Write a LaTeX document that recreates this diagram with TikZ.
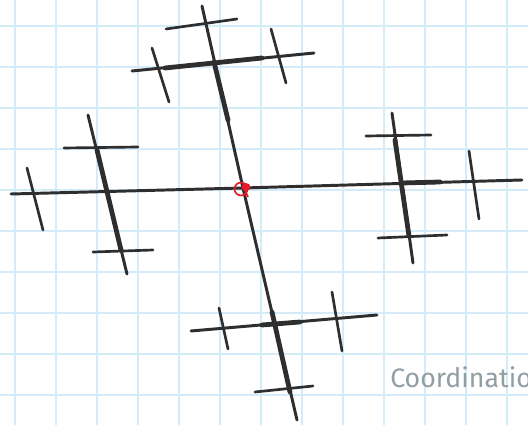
\documentclass[tikz,border=0pt]{standalone}
\usepackage{fontspec}
\newfontfamily\notefont{Fira Sans}
\usetikzlibrary{calc}
\definecolor{gridblue}{RGB}{212,235,250}
\definecolor{ink}{RGB}{46,46,46}
\definecolor{pencil}{RGB}{145,158,163}
\definecolor{marker}{RGB}{232,28,40}
\tikzset{
  gridline/.style={draw=gridblue, line width=1.1pt},
  stroke/.style={draw=ink, line width=2.1pt, line cap=round, line join=round},
  heavy/.style={draw=ink, line width=3.4pt, line cap=round},
  tickline/.style={draw=ink, line width=1.9pt, line cap=round},
  scribble/.style={draw=marker, line width=1.2pt},
  caption/.style={
    font=\notefont\fontsize{19}{19}\selectfont, text=pencil,
    anchor=base west, inner sep=0pt
  }
}

\begin{document}
\begin{tikzpicture}[x=0.025cm, y=-0.025cm]

% Paper and grid
\fill[white] (0,0) rectangle (528,425);
\useasboundingbox (0,0) rectangle (528,425);
\clip (0,0) rectangle (528,425);
\foreach \gx in {15,56,...,507} \draw[gridline] (\gx,0) -- (\gx,425);
\foreach \gy in {26,67,...,395} \draw[gridline] (0,\gy) -- (528,\gy);

% Centre
\coordinate (c) at (243,188);

% Up arm
\coordinate (uEnd) at (202,6);
\coordinate (uL) at (132,71);
\coordinate (uR) at (314,53);
\coordinate (uLa) at (152,48);  \coordinate (uLb) at (169,102);
\coordinate (uRa) at (271,29);  \coordinate (uRb) at (286,83);
\coordinate (uTa) at (166,29);  \coordinate (uTb) at (237,19);

% Left arm
\coordinate (lEnd) at (11,194);
\coordinate (lT) at (88,115);
\coordinate (lB) at (127,274);
\coordinate (lTa) at (64,148);  \coordinate (lTb) at (138,147);
\coordinate (lBa) at (93,252);  \coordinate (lBb) at (153,250);
\coordinate (lEa) at (27,168);  \coordinate (lEb) at (43,230);

% Right arm
\coordinate (rEnd) at (522,180);
\coordinate (rT) at (392,113);
\coordinate (rB) at (413,263);
\coordinate (rTa) at (366,136); \coordinate (rTb) at (431,135);
\coordinate (rBa) at (378,238); \coordinate (rBb) at (447,235);
\coordinate (rEa) at (469,151); \coordinate (rEb) at (479,219);

% Down arm
\coordinate (dEnd) at (297,420);
\coordinate (dL) at (191,331);
\coordinate (dR) at (377,315);
\coordinate (dLa) at (219,308); \coordinate (dLb) at (228,349);
\coordinate (dRa) at (332,292); \coordinate (dRb) at (342,351);
\coordinate (dEa) at (255,392); \coordinate (dEb) at (313,386);

% Stems
\draw[stroke] (c) -- (uEnd);
\draw[stroke] (c) -- (lEnd);
\draw[stroke] (c) -- (rEnd);
\draw[stroke] (c) -- (dEnd);

% Crossbars
\draw[stroke] (uL) -- (uR);
\draw[stroke] (lT) -- (lB);
\draw[stroke] (rT) -- (rB);
\draw[stroke] (dL) -- (dR);

% Heavier marker strokes
\draw[heavy] (214,62) -- (228,120);
\draw[heavy] (165,68) -- (262,58);
\draw[heavy] (97,150) -- (121,250);
\draw[heavy] (395,140) -- (409,236);
\draw[heavy] (402,183) -- (440,182);
\draw[heavy] (272,312) -- (290,392);
\draw[heavy] (262,325) -- (300,322);

% Ticks
\draw[tickline] (uLa) -- (uLb);
\draw[tickline] (uRa) -- (uRb);
\draw[tickline] (uTa) -- (uTb);
\draw[tickline] (lTa) -- (lTb);
\draw[tickline] (lBa) -- (lBb);
\draw[tickline] (lEa) -- (lEb);
\draw[tickline] (rTa) -- (rTb);
\draw[tickline] (rBa) -- (rBb);
\draw[tickline] (rEa) -- (rEb);
\draw[tickline] (dLa) -- (dLb);
\draw[tickline] (dRa) -- (dRb);
\draw[tickline] (dEa) -- (dEb);

% Red mark at the centre
\draw[scribble] ($(c)+(-2,1)$) circle[radius=4.6pt];
\fill[marker] ($(c)+(3,-1)$) ellipse[x radius=3.2pt, y radius=2.8pt];
\draw[scribble] ($(c)+(2,2)$) -- ($(c)+(5,9)$);

% Caption
\node[caption] (note) at (390,388) {Coordination};

\end{tikzpicture}
\end{document}
